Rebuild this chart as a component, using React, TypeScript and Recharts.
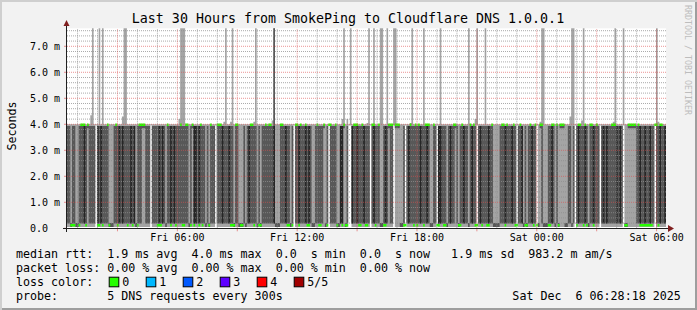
import React from "react";
import { ComposedChart, Area, XAxis, YAxis, CartesianGrid, ReferenceLine } from "recharts";

// hours after Fri 00:00; the graph ends Sat 06:28:18
const startHour = 0.4717;
const spanHours = 30;
const stepHours = 5 / 60;

// one letter per 5 min step, read off the smoke
// d = dark band (2nd..4th ping spread over 0..4 ms), l = light band only,
// k = near black column, w = all pings ~4 ms (white below)
const smokeRows = [
  "ddlddllddd" + "kdlddddwkd" + "kddddllldd" + "dkdkddddkd" + "kldddllddd" + "wddddkdkdl",
  "ddkdkddddd" + "dddldlkkdk" + "dddldldddw" + "dddkdddkdd" + "lddllldldk" + "ddddldlddd",
  "ddddkllldd" + "dkddldwddk" + "dddkdkdlld" + "ddddlldwdd" + "ddllkklldw" + "wkddkdddkd",
  "ddwdkdddll" + "dkdlddwlll" + "lldwdkdddd" + "ddkdddkdll" + "ddwkkdddld" + "kddldlddkd",
  "dldkddwdkd" + "dddkddllll" + "dddkdddkdd" + "wddkldlddk" + "ddwlldllld" + "dkdldlllll",
  "lddldwdkdd" + "dkdlddkddd" + "wdkdkddddd" + "kdkdwlllll" + "llddkddkdd" + "kddwddkddk",
];

// median position per step: t = ~4 ms, b = ~0.1 ms, . = hidden under the smoke
const medianRows = [
  "..bbb..btt" + "tbt.....bb" + ".b..tb...t" + "b.....b..b" + "..btttt..." + "....bbb...",
  "t.b..b..tb" + "btt.btb..b" + "tb...bt..." + "ttt.....bb" + "btt.bb...." + "ttb..bb..t",
  ".tt.....tt" + "..bb.b.ttb" + "t..tbb...." + "tbb.t.btt." + ".tb..btbb." + "..tttbbt.b",
  "b..ttb.t.." + "bb.ttt.ttt" + "..bb..t.bt" + "bt..bttt.." + "t.bb..bb.." + "..tt.bbt..",
  "..t.tbb..b" + "..bb.t...." + ".ttbt...tb" + "b.t..bb.t." + "btb.tt...b" + "btt.tbttt.",
  "......btt." + "btb.ttb.t." + ".......ttt" + ".....bbttt" + "tt.tbbbbbb" + "bb.ttbtt..",
];

// steps whose slowest ping is above 4 ms (7.8 = off the top)
const maxSteps = [14, 15, 19, 21, 33, 34, 35, 67, 68, 69, 70, 94, 95, 98, 99, 112, 113, 123, 124,
  165, 166, 168, 170, 180, 181, 184, 188, 189, 192, 196, 197, 206, 207, 214, 224, 241, 245, 246,
  251, 284, 285, 286, 302, 303, 304, 309, 310, 328, 329, 334, 354, 355];
const maxMs = [4.35, 7.8, 7.8, 7.8, 4.3, 7.8, 7.8, 4.2, 7.8, 7.8, 7.8, 4.1, 7.8, 4.1, 7.8, 4.1, 7.8, 4.15, 7.8,
  4.2, 7.8, 4.2, 7.8, 4.05, 7.8, 7.8, 7.8, 7.8, 7.8, 7.8, 7.8, 4.05, 7.8, 7.8, 7.8, 7.8, 4.2, 7.8,
  7.8, 4.1, 7.8, 7.8, 4.3, 7.8, 7.8, 4.15, 7.8, 4.1, 7.8, 7.8, 7.8, 4.1];
const darkSpikeSteps = [124];

const medianHighMs = 3.98;
const medianLowMs = 0.12;

const majorHours = [3, 6, 9, 12, 15, 18, 21, 24, 27, 30];
const labelHours = [6, 12, 18, 24, 30];
const labelTexts = ["Fri 06:00", "Fri 12:00", "Fri 18:00", "Sat 00:00", "Sat 06:00"];
const yTicks = [0, 1, 2, 3, 4, 5, 6, 7];
const yMax = 7.692;

const lossLabels = ["0", "1", "2", "3", "4", "5/5"];
const lossColors = ["#26ff00", "#00b8ff", "#0059ff", "#5e00ff", "#ff0000", "#a10000"];

const statLines = [
  "median rtt:  1.9 ms avg  4.0 ms max  0.0  s min  0.0  s now   1.9 ms sd  983.2 m am/s",
  "packet loss: 0.00 % avg  0.00 % max  0.00 % min  0.00 % now",
];

const smoke = smokeRows.join("");
const medians = medianRows.join("");
const data = medians.split("").map((m, i) => {
  const kind = smoke[i] || "d";
  const mi = maxSteps.indexOf(i);
  const hi = mi >= 0 ? maxMs[mi] : 4.0;
  let outer = [0.05, hi];
  let inner = [0.18, 3.93];
  let black = [0, 0];
  if (kind === "w") {
    outer = [3.95, hi];
    inner = [3.95, 3.95];
  } else if (kind === "l") {
    inner = m === "t" ? [3.85, 4.0] : [0.05, 0.2];
  } else if (kind === "k") {
    black = [0.18, 3.93];
  }
  if (darkSpikeSteps.includes(i)) inner = [0.18, hi];
  const med = m === "t" ? medianHighMs : medianLowMs;
  const median = m === "." ? [0, 0] : [med - 0.05, med + 0.05];
  return { t: startHour + i * stepHours, outer, inner, black, median };
});
data.push({ ...data[data.length - 1], t: startHour + spanHours });

const minorY: number[] = [];
for (let i = 1; i < 39; i++) if (i % 5 !== 0) minorY.push(i / 5);
const minorX: number[] = [];
for (let h = 1; h <= 30; h++) if (h % 3 !== 0) minorX.push(h);

const mono = "'DejaVu Sans Mono', monospace";
const gridColor = "rgba(143,143,143,0.75)";
const mgridColor = "rgba(222,79,79,0.6)";

const TimeTick = (props: any) => {
  const idx = labelHours.indexOf(props.payload.value);
  if (idx < 0) return <g />;
  return (
    <text x={props.x} y={241} textAnchor="middle" fontFamily={mono} fontSize={10} fill="#000">
      {labelTexts[idx]}
    </text>
  );
};

const ValueTick = (props: any) => {
  const v = props.payload.value;
  return (
    <text x={30} y={props.y + 3.6} textAnchor="start" fontFamily={mono} fontSize={10} fill="#000">
      {v === 0 ? "0.0" : `${v}.0 m`}
    </text>
  );
};

export default function App() {
  return (
    <div
      style={{
        position: "absolute", left: 0, top: 0, width: 697, height: 310,
        background: "#f2f2f2",
        boxShadow: "inset 2px 2px 0 #cfcfcf, inset -2px -2px 0 #9e9e9e",
      }}
    >
      <ComposedChart width={697} height={310} data={data}
        margin={{ top: 28.3, right: 31, left: 0, bottom: 0 }}>
        <CartesianGrid fill="#ffffff" horizontal={false} vertical={false} />
        <XAxis dataKey="t" type="number" domain={[startHour, startHour + spanHours]} allowDataOverflow
          ticks={majorHours} tick={TimeTick} height={81.7} axisLine={false}
          tickLine={{ stroke: mgridColor }} tickSize={3} interval={0} />
        <YAxis type="number" domain={[0, yMax]} allowDataOverflow ticks={yTicks} tick={ValueTick}
          width={67} axisLine={false} tickLine={{ stroke: mgridColor }} tickSize={3} interval={0} />
        <Area dataKey="outer" type="stepAfter" fill="#a4a4a4" fillOpacity={1} stroke="none"
          dot={false} activeDot={false} isAnimationActive={false} />
        <Area dataKey="inner" type="stepAfter" fill="#585858" fillOpacity={1} stroke="none"
          dot={false} activeDot={false} isAnimationActive={false} />
        <Area dataKey="black" type="stepAfter" fill="#262626" fillOpacity={1} stroke="none"
          dot={false} activeDot={false} isAnimationActive={false} />
        <Area dataKey="median" type="stepAfter" fill={lossColors[0]} fillOpacity={1} stroke="none"
          dot={false} activeDot={false} isAnimationActive={false} />
        {minorY.map((v) => (
          <ReferenceLine key={"my" + v} y={v} stroke={gridColor} strokeDasharray="1 1" />
        ))}
        {minorX.map((h) => (
          <ReferenceLine key={"mx" + h} x={h} stroke={gridColor} strokeDasharray="1 1" />
        ))}
        {yTicks.slice(1).map((v) => (
          <ReferenceLine key={"My" + v} y={v} stroke={mgridColor} strokeDasharray="1 1" />
        ))}
        {majorHours.map((h) => (
          <ReferenceLine key={"Mx" + h} x={h} stroke={mgridColor} strokeDasharray="1 1" />
        ))}
      </ComposedChart>

      <svg width={697} height={310} fontFamily={mono}
        style={{ position: "absolute", left: 0, top: 0, pointerEvents: "none" }}>
        <text x={348} y={22.7} fontSize={13.3} textAnchor="middle" fill="#000">
          Last 30 Hours from SmokePing to Cloudflare DNS 1.0.0.1
        </text>
        <text transform="translate(15.5,126) rotate(-90)" fontSize={11.66} textAnchor="middle" fill="#000">
          Seconds
        </text>
        <text transform="translate(685.3,5) rotate(90)" fontSize={8.3} fill="#bdbdbd">
          RRDTOOL / TOBI OETIKER
        </text>

        <line x1={63} y1={228.5} x2={669} y2={228.5} stroke="#1f1f1f" strokeWidth={1} />
        <line x1={66.5} y1={232} x2={66.5} y2={25} stroke="#1f1f1f" strokeWidth={1} />
        <polygon points="668,225 674,228.5 668,232" fill="#801f1f" />
        <polygon points="63.5,26 66.5,20 69.5,26" fill="#801f1f" />

        {statLines.map((s, i) => (
          <text key={s} x={16} y={257.5 + i * 14.3} fontSize={11.66} fill="#000"
            xmlSpace="preserve" style={{ whiteSpace: "pre" }}>
            {s}
          </text>
        ))}
        <text x={16} y={286.2} fontSize={11.66} fill="#000">loss color:</text>
        {lossLabels.map((l, i) => (
          <g key={l}>
            <rect x={109.2 + i * 37} y={277.2} width={9.6} height={9.6} fill={lossColors[i]}
              stroke="#000" strokeWidth={1} />
            <text x={122.2 + i * 37} y={286.2} fontSize={11.66} fill="#000">{l}</text>
          </g>
        ))}
        <text x={16} y={300.2} fontSize={11.66} fill="#000" xmlSpace="preserve" style={{ whiteSpace: "pre" }}>
          {"probe:       5 DNS requests every 300s"}
        </text>
        <text x={680.8} y={300.2} fontSize={11.66} fill="#000" textAnchor="end"
          xmlSpace="preserve" style={{ whiteSpace: "pre" }}>
          {"Sat Dec  6 06:28:18 2025"}
        </text>
      </svg>
    </div>
  );
}
